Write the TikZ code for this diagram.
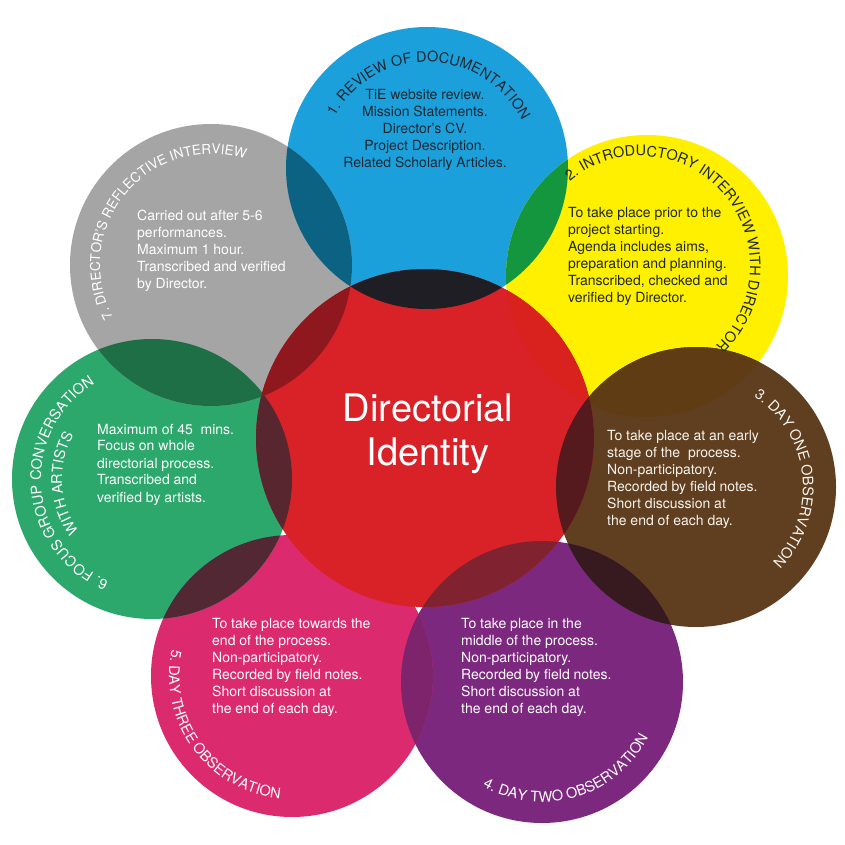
\documentclass[tikz,border=0pt]{standalone}
\usepackage{fontspec}
\setmainfont{TeX Gyre Heros}
\usetikzlibrary{decorations.text}
\definecolor{cblue}{RGB}{28,160,219}
\definecolor{cyel}{RGB}{255,240,0}
\definecolor{cbrown}{RGB}{96,62,32}
\definecolor{cpurp}{RGB}{125,40,127}
\definecolor{cpink}{RGB}{220,42,110}
\definecolor{cgreen}{RGB}{44,168,108}
\definecolor{cgray}{RGB}{165,165,165}
\definecolor{cred}{RGB}{217,34,40}
\definecolor{lBG}{RGB}{12,98,130}
\definecolor{lBY}{RGB}{20,150,62}
\definecolor{lBR}{RGB}{30,30,36}
\definecolor{lYR}{RGB}{217,34,30}
\definecolor{lYN}{RGB}{96,60,20}
\definecolor{lNR}{RGB}{85,26,30}
\definecolor{lNP}{RGB}{55,25,32}
\definecolor{lPR}{RGB}{128,34,48}
\definecolor{lPK}{RGB}{125,36,108}
\definecolor{lKR}{RGB}{217,34,40}
\definecolor{lKG}{RGB}{82,40,52}
\definecolor{lGR}{RGB}{88,38,46}
\definecolor{lGG}{RGB}{30,110,70}
\definecolor{lGyR}{RGB}{142,24,30}
\definecolor{darktext}{RGB}{30,40,50}
\definecolor{lighttext}{RGB}{248,244,238}
\newcommand\tfont{\fontsize{14.5}{16}\selectfont}
\newcommand\tfontb{\fontsize{13.5}{15}\selectfont}
\newcommand\mylens[5]{\begin{scope}\clip (#1) circle[radius=#2];\fill[#5] (#3) circle[radius=#4];\end{scope}}
\begin{document}
\begin{tikzpicture}[x=1pt,y=1pt,
  body/.style={font=\fontsize{14}{17}\selectfont, align=left, anchor=base west, inner sep=0pt},
  arctitle/.style={decorate, decoration={text along path, text align=center, text color=#1}},
]
\useasboundingbox (0,0) rectangle (845,844);
\fill[white] (0,0) rectangle (845,844);
\coordinate (cB) at (427,676);
\coordinate (cY) at (647,568);
\coordinate (cN) at (696,357);
\coordinate (cP) at (542,162);
\coordinate (cK) at (292,168);
\coordinate (cG) at (152,365);
\coordinate (cGy) at (211,579);
\coordinate (cR) at (425,406);
\fill[cblue]  (cB) circle[radius=141];
\fill[cyel]   (cY) circle[radius=141];
\fill[cbrown] (cN) circle[radius=140];
\fill[cpurp]  (cP) circle[radius=141];
\fill[cpink]  (cK) circle[radius=141];
\fill[cgreen] (cG) circle[radius=140];
\fill[cgray]  (cGy) circle[radius=141];
\fill[cred]   (cR) circle[radius=169];
% overlaps
\mylens{cB}{141}{cGy}{141}{lBG}
\mylens{cB}{141}{cY}{141}{lBY}
\mylens{cB}{141}{cR}{169}{lBR}
\mylens{cY}{141}{cR}{169}{lYR}
\mylens{cY}{141}{cN}{140}{lYN}
\mylens{cN}{140}{cR}{169}{lNR}
\mylens{cN}{140}{cP}{141}{lNP}
\mylens{cP}{141}{cR}{169}{lPR}
\mylens{cP}{141}{cK}{141}{lPK}
\mylens{cK}{141}{cR}{169}{lKR}
\mylens{cK}{141}{cG}{140}{lKG}
\mylens{cG}{140}{cR}{169}{lGR}
\mylens{cG}{140}{cGy}{141}{lGG}
\mylens{cGy}{141}{cR}{169}{lGyR}

% curved titles
\path[arctitle=darktext, decoration={text={|\tfont|1. REVIEW OF DOCUMENTATION}}]
  (427,676) ++(188.6:106) arc[start angle=188.6, end angle=-11.4, radius=106];
\path[arctitle=darktext, decoration={text={|\tfont|2. INTRODUCTORY INTERVIEW WITH DIRECTOR}}]
  (640,578) ++(151.5:110) arc[start angle=151.5, end angle=-68.5, radius=110];
\path[arctitle=lighttext, decoration={text={|\tfont|3. DAY ONE OBSERVATION}}]
  (696,357) ++(106.4:107) arc[start angle=106.4, end angle=-93.6, radius=107];
\path[arctitle=white, decoration={text={|\tfont|4. DAY TWO OBSERVATION}}]
  (542,162) ++(-173.6:120) arc[start angle=-173.6, end angle=26.4, radius=120];
\path[arctitle=white, decoration={text={|\tfont|5. DAY THREE OBSERVATION}}]
  (292,168) ++(116:123) arc[start angle=116, end angle=316, radius=123];
\path[arctitle=white, decoration={text={|\tfont|6. FOCUS GROUP CONVERSATION}}]
  (152,365) ++(284:111) arc[start angle=284, end angle=84, radius=111];
\path[arctitle=white, decoration={text={|\tfont|WITH ARTISTS}}]
  (152,365) ++(273:90) arc[start angle=273, end angle=93, radius=90];
\path[arctitle=white, decoration={text={|\tfontb|7. DIRECTOR'S REFLECTIVE INTERVIEW}}]
  (211,579) ++(240:111) arc[start angle=240, end angle=40, radius=111];

% centre
\node[font=\fontsize{38}{44}\selectfont, text=white, align=center, anchor=base, inner sep=0pt]
  (centre) at (428,378) {Directorial\\Identity};

% body texts (anchor = baseline of last line)
\node[body, align=center, anchor=base, text=darktext] (t1) at (425,676)
  {TiE website review.\\Mission Statements.\\Director's CV.\\Project Description.\\Related Scholarly Articles.};
\node[body, text=darktext] (t2) at (568,541)
  {To take place prior to the\\project starting.\\Agenda includes aims,\\preparation and planning.\\Transcribed, checked and\\verified by Director.};
\node[body, text=lighttext] (t3) at (607,319)
  {To take place at an early\\stage of the\ \ process.\\Non-participatory.\\Recorded by field notes.\\Short discussion at\\the end of each day.};
\node[body, text=white] (t4) at (461,131)
  {To take place in the\\middle of the process.\\Non-participatory.\\Recorded by field notes.\\Short discussion at\\the end of each day.};
\node[body, text=white] (t5) at (212,131)
  {To take place towards the\\end of the process.\\Non-participatory.\\Recorded by field notes.\\Short discussion at\\the end of each day.};
\node[body, text=white] (t6) at (97,342)
  {Maximum of 45\ \ mins.\\Focus on whole\\directorial process.\\Transcribed and\\verified by artists.};
\node[body, text=white] (t7) at (137,555)
  {Carried out after 5-6\\performances.\\Maximum 1 hour.\\Transcribed and verified\\by Director.};
\end{tikzpicture}
\end{document}
